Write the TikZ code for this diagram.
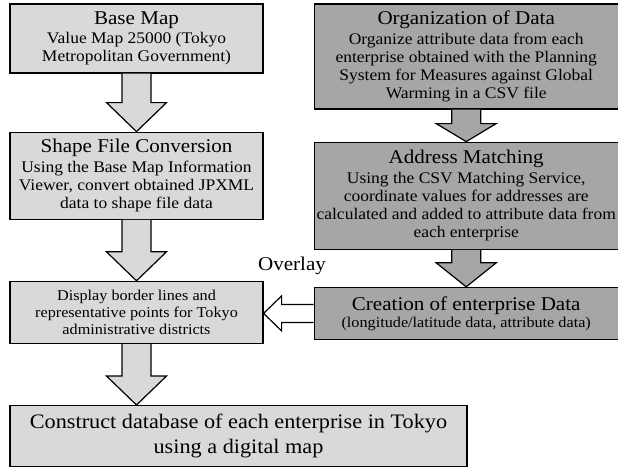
\documentclass[tikz,border=0pt]{standalone}
\usepackage{fontspec}
\setmainfont{Liberation Serif}[FakeStretch=1.08]
\usetikzlibrary{positioning,calc}

\definecolor{lightgrey}{gray}{0.85}
\definecolor{darkgrey}{gray}{0.65}
\newcommand{\headsize}{\fontsize{19.5}{22}\selectfont}

% fat arrow downwards: source, target, fill, head length
\newcommand{\fatdown}[4]{%
  \draw[blockarrow, fill=#3] let \p1=(#1.south), \p2=(#2.north) in
    (\x1-14.5pt,\y1) -- (\x1-14.5pt,\y2+#4) -- (\x1-30pt,\y2+#4) -- (\x1,\y2)
    -- (\x1+30pt,\y2+#4) -- (\x1+14.5pt,\y2+#4) -- (\x1+14.5pt,\y1);}
% fat arrow to the left: source, target, fill, head length
\newcommand{\fatleft}[4]{%
  \draw[blockarrow, fill=#3] let \p1=(#1.west), \p2=(#2.east) in
    (\x1,\y1+9pt) -- (\x2+#4,\y1+9pt) -- (\x2+#4,\y1+17.5pt) -- (\x2,\y1)
    -- (\x2+#4,\y1-17.5pt) -- (\x2+#4,\y1-9pt) -- (\x1,\y1-9pt);}

\begin{document}
\begin{tikzpicture}[x=1pt, y=1pt,
    lightnode/.style={rectangle, draw=black, fill=lightgrey, line width=1.2pt, align=center, minimum width=253pt, inner sep=0pt},
    darknode/.style={rectangle, draw=black, fill=darkgrey, line width=1.2pt, align=center, minimum width=304pt, inner sep=0pt},
    blockarrow/.style={draw=black, line width=1.2pt, line join=miter},
    ]
    \tikzstyle{every node}=[font=\fontsize{16.2}{18}\selectfont]
    \useasboundingbox (0,0) rectangle (618,-466);
    %Nodes
    \node[lightnode, minimum height=69pt]   (basemap)  at (136.5,-38.5) {{\headsize Base Map}\\[1.5pt] Value Map 25000 (Tokyo\\ Metropolitan Government)};
    \node[lightnode, minimum height=87pt]   (shapeconv) [below=58pt of basemap] {{\headsize Shape File Conversion}\\[1.5pt] Using the Base Map Information\\ Viewer, convert obtained JPXML\\ data to shape file data};
    \node[lightnode, minimum height=62pt, font=\fontsize{15}{17}\selectfont] (display) [below=61pt of shapeconv] {Display border lines and\\ representative points for Tokyo\\ administrative districts};
    \node[lightnode, minimum width=457pt, minimum height=61pt, font=\fontsize{20.6}{25}\selectfont] (construct) [below right=61pt and 0pt of display.south west] {Construct database of each enterprise in Tokyo\\ using a digital map};
    \node[darknode, minimum height=105pt]   (organize) [below right=0pt and 50pt of basemap.north east] {{\headsize Organization of Data}\\[1.5pt] Organize attribute data from each\\ enterprise obtained with the Planning\\ System for Measures against Global\\ Warming in a CSV file};
    \node[darknode, minimum height=107pt]   (matching) [below=32pt of organize] {{\headsize Address Matching}\\[1.5pt] Using the CSV Matching Service,\\ coordinate values for addresses are\\ calculated and added to attribute data from\\ each enterprise};
    \node[darknode, minimum height=52pt, font=\fontsize{15}{17}\selectfont] (creation) [below=37pt of matching] {{\headsize Creation of enterprise Data}\\ (longitude/latitude data, attribute data)};
    \node[font=\headsize, inner sep=0pt] (overlay) at (292,-266) {Overlay};

    %Lines
    \fatdown{basemap}{shapeconv}{lightgrey}{29pt}
    \fatdown{shapeconv}{display}{lightgrey}{29pt}
    \fatdown{display}{construct}{lightgrey}{29pt}
    \fatdown{organize}{matching}{darkgrey}{18pt}
    \fatdown{matching}{creation}{darkgrey}{24pt}
    \fatleft{creation}{display}{white}{18pt}
\end{tikzpicture}
\end{document}
